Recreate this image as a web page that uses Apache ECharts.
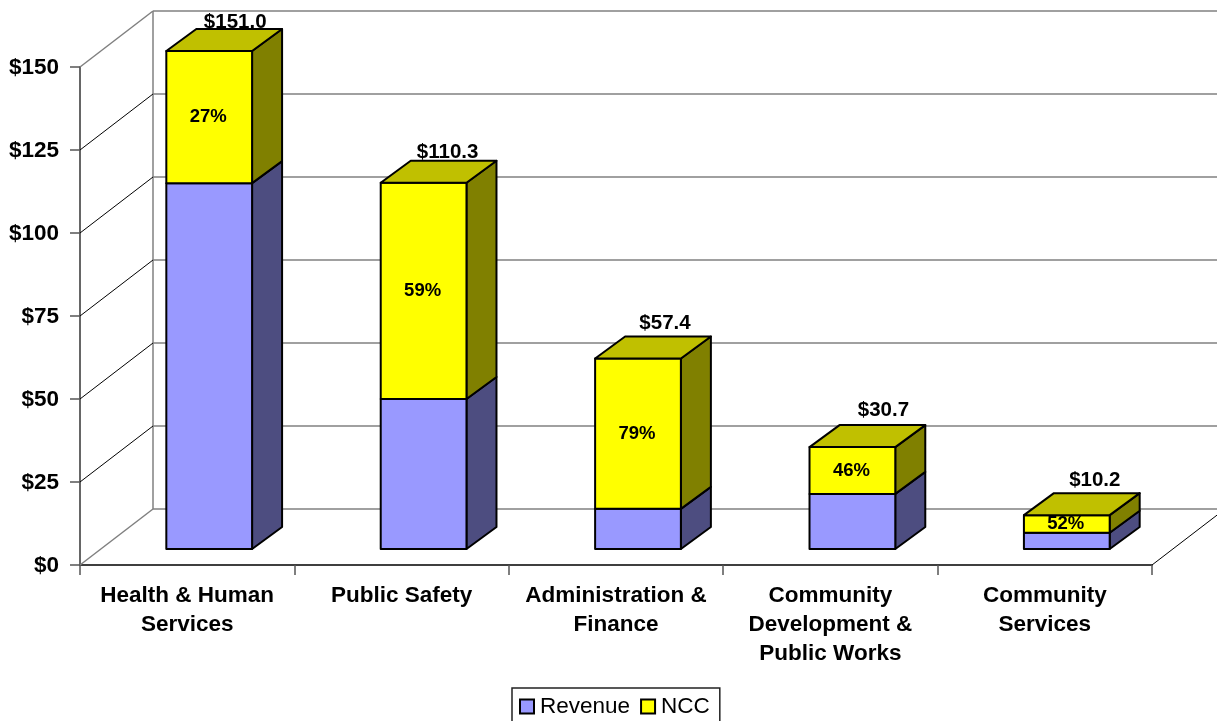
<!DOCTYPE html>
<html>
<head>
<meta charset="utf-8">
<style>html,body{margin:0;padding:0;background:#fff;overflow:hidden}#chart{width:1217px;height:721px}</style>
<script src="https://cdn.jsdelivr.net/npm/echarts@6/dist/echarts.min.js"></script>
</head>
<body>
<div id="chart"></div>
<script>
// Spending by service area, in millions of dollars
const categories = [
  'Health & Human\nServices',
  'Public Safety',
  'Administration &\nFinance',
  'Community\nDevelopment &\nPublic Works',
  'Community\nServices'
];
const revenue = [110.2, 45.2, 12.1, 16.6, 4.9];
const ncc = [40.8, 65.1, 45.3, 14.1, 5.3];
const totals = [151.0, 110.3, 57.4, 30.7, 10.2];
const nccShare = [27, 59, 79, 46, 52];
const valueTicks = [0, 25, 50, 75, 100, 125, 150];

// Pseudo-3D projection, in pixels
const AXIS_MAX = 150;
const WALL_DX = 73, WALL_DY = -56;     // front plane to back wall
const BAR_DX = 22, BAR_DY = -16;       // front plane to front of the bars
const DEPTH_DX = 30, DEPTH_DY = -22;   // depth of each bar
const BAR_RATIO = 0.4;
const TOTAL_LABEL_DX = [26, 24, 27, 31, 28];
const TOTAL_LABEL_DY = [-29, -30, -35, -37, -35];

const FONT = '"Liberation Sans", Arial, sans-serif';
const INK = '#000';

function renderWall(params, api) {
  const cs = params.coordSys;
  const v = api.value(0);
  const x0 = cs.x, x1 = cs.x + cs.width;
  const y = api.coord([0, v])[1];
  const edge = v === 0 || v === AXIS_MAX;
  const children = [
    { type: 'line', shape: { x1: x0, y1: y, x2: x0 + WALL_DX, y2: y + WALL_DY },
      style: { stroke: edge ? '#808080' : '#000', lineWidth: edge ? 1.5 : 1 } },
    { type: 'line', shape: { x1: x0 + WALL_DX, y1: y + WALL_DY, x2: x1 + WALL_DX, y2: y + WALL_DY },
      style: { stroke: '#808080', lineWidth: 1.5 } }
  ];
  if (v === 0) {
    const top = api.coord([0, AXIS_MAX])[1];
    children.push(
      { type: 'line', shape: { x1: x0 + WALL_DX, y1: y + WALL_DY, x2: x0 + WALL_DX, y2: top + WALL_DY },
        style: { stroke: '#808080', lineWidth: 1.5 } },
      { type: 'line', shape: { x1: x1, y1: y, x2: x1 + WALL_DX, y2: y + WALL_DY },
        style: { stroke: '#000', lineWidth: 1 } }
    );
  }
  return { type: 'group', children };
}

function makeBarRenderer(front, side, top, withTop) {
  return function (params, api) {
    const i = api.value(0);
    const lowVal = Math.min(api.value(1), AXIS_MAX);
    const highVal = Math.min(api.value(2), AXIS_MAX);
    const w = api.size([1, 0])[0] * BAR_RATIO;
    const c = api.coord([i, 0]);
    const cx = c[0] + BAR_DX;
    const yLow = api.coord([i, lowVal])[1] + BAR_DY;
    const yHigh = api.coord([i, highVal])[1] + BAR_DY;
    const l = cx - w / 2, r = cx + w / 2;
    const edge = { stroke: INK, lineWidth: 2, lineJoin: 'round' };
    const children = [
      { type: 'polygon',
        shape: { points: [[r, yHigh], [r + DEPTH_DX, yHigh + DEPTH_DY], [r + DEPTH_DX, yLow + DEPTH_DY], [r, yLow]] },
        style: Object.assign({ fill: side }, edge) },
      { type: 'rect', shape: { x: l, y: yHigh, width: w, height: yLow - yHigh },
        style: Object.assign({ fill: front }, edge) }
    ];
    if (withTop) {
      children.push(
        { type: 'polygon',
          shape: { points: [[l, yHigh], [l + DEPTH_DX, yHigh + DEPTH_DY], [r + DEPTH_DX, yHigh + DEPTH_DY], [r, yHigh]] },
          style: Object.assign({ fill: top }, edge) },
        { type: 'text', z2: 10,
          style: { text: nccShare[i] + '%', x: cx - 1, y: (yLow + yHigh) / 2, align: 'center', verticalAlign: 'middle',
            font: 'bold 18.5px ' + FONT, fill: INK } },
        { type: 'text', z2: 10,
          style: { text: '$' + totals[i].toFixed(1), x: cx + TOTAL_LABEL_DX[i], y: yHigh + TOTAL_LABEL_DY[i],
            align: 'center', verticalAlign: 'middle', font: 'bold 20.5px ' + FONT, fill: INK } }
      );
    }
    return { type: 'group', children };
  };
}

const chart = echarts.init(document.getElementById('chart'));
chart.setOption({
  animation: false,
  backgroundColor: '#fff',
  textStyle: { fontFamily: FONT },
  grid: { left: 80, right: 65, top: 67, bottom: 156 },
  legend: {
    data: [{ name: 'Revenue', icon: 'rect' }, { name: 'NCC', icon: 'rect' }],
    left: 512, top: 688,
    orient: 'horizontal',
    padding: [7, 10, 40, 7],
    itemWidth: 14, itemHeight: 14, itemGap: 10,
    borderColor: '#222', borderWidth: 1.5,
    selectedMode: false,
    textStyle: { fontSize: 22.5, color: INK, fontFamily: FONT, padding: [2, 0, 0, 1] }
  },
  xAxis: {
    type: 'category',
    data: categories,
    boundaryGap: true,
    axisLine: { show: true, lineStyle: { color: '#000', width: 1.5 } },
    axisTick: { show: true, length: 10, alignWithLabel: false, lineStyle: { color: '#555', width: 1.5 } },
    axisLabel: { interval: 0, margin: 16, fontSize: 22.5, fontWeight: 'bold', color: INK, lineHeight: 29, fontFamily: FONT },
    splitLine: { show: false }
  },
  yAxis: {
    type: 'value',
    min: 0, max: AXIS_MAX, interval: 25,
    axisLine: { show: true, lineStyle: { color: '#333', width: 1.5 } },
    axisTick: { show: true, length: 10, lineStyle: { color: '#555', width: 1.5 } },
    axisLabel: { margin: 21, fontSize: 22.5, fontWeight: 'bold', color: INK, fontFamily: FONT,
      verticalAlign: 'top', padding: [-11, 0, 0, 0], formatter: v => '$' + v },
    splitLine: { show: false }
  },
  series: [
    { name: 'wall', type: 'custom', z: 1, silent: true, renderItem: renderWall,
      data: valueTicks.map(v => [v]), encode: { y: 0 } },
    { name: 'Revenue', type: 'custom', z: 2, silent: true,
      itemStyle: { color: '#9999FF', borderColor: '#000', borderWidth: 2 },
      renderItem: makeBarRenderer('#9999FF', '#4D4D80', '#9999FF', false),
      data: revenue.map((v, i) => [i, 0, v]), encode: { x: 0, y: [1, 2] } },
    { name: 'NCC', type: 'custom', z: 3, silent: true,
      itemStyle: { color: '#FFFF00', borderColor: '#000', borderWidth: 2 },
      renderItem: makeBarRenderer('#FFFF00', '#808000', '#C0C000', true),
      data: ncc.map((v, i) => [i, revenue[i], revenue[i] + v]), encode: { x: 0, y: [1, 2] } }
  ]
});
</script>
</body>
</html>
